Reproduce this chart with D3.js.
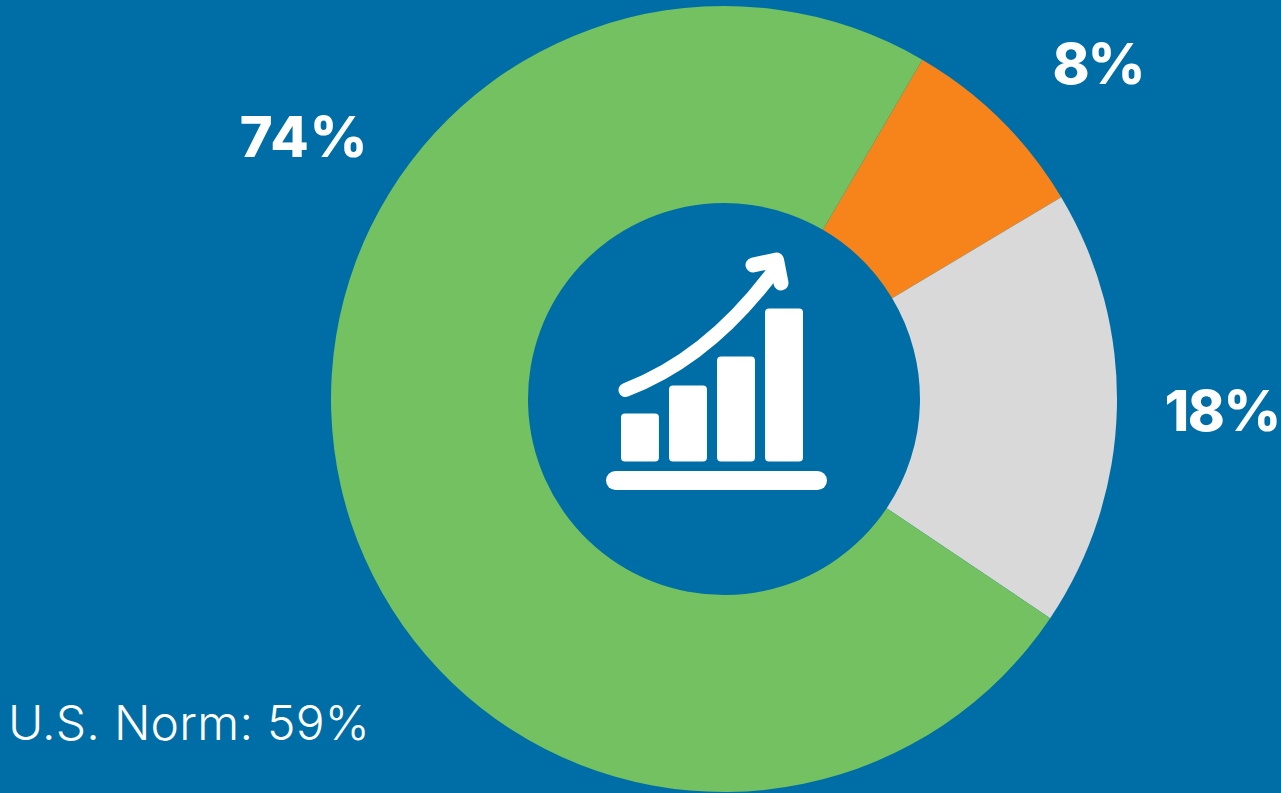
<!DOCTYPE html>
<html>
<head>
<meta charset="utf-8">
<script src="https://cdn.jsdelivr.net/npm/d3@7"></script>
<style>
html,body{margin:0;padding:0;background:#006ea6;overflow:hidden}
svg{display:block}
text{font-family:Inter,"Noto Sans",sans-serif;fill:#fff}
</style>
</head>
<body>
<svg id="chart" width="1281" height="793"></svg>
<script>
// Share of responses per segment, clockwise from the orange wedge
const segments = ["Orange", "Grey", "Green"];
const shares = [8, 18, 74];
const segmentColors = ["#f6841b", "#d9d9d9", "#73c160"];
const shareLabels = ["8%", "18%", "74%"];
const normLabel = "U.S. Norm: 59%";
// Relative heights of the bars in the growth icon
const iconBarHeights = [48, 76, 105, 153];

const W = 1281, H = 793;
const cx = 724, cy = 399, outer = 393, inner = 196;
const startDeg = 30.3;

const svg = d3.select("#chart");
svg.append("rect").attr("width", W).attr("height", H).attr("fill", "#006ea6");

const pie = d3.pie().sort(null)
  .startAngle(startDeg * Math.PI / 180)
  .endAngle((startDeg + 360) * Math.PI / 180);
const arc = d3.arc().innerRadius(inner).outerRadius(outer);

const g = svg.append("g").attr("transform", `translate(${cx},${cy})`);
g.selectAll("path.slice")
  .data(pie(shares))
  .join("path")
  .attr("class", "slice")
  .attr("d", arc)
  .attr("fill", (d, i) => segmentColors[i]);

// Value labels sit outside the ring at fixed anchor points
const labelAnchors = [
  {x: 1098, y: 84, spacing: -2},
  {x: 1222, y: 431, spacing: -1.5},
  {x: 304, y: 157, spacing: 0.8}
];
svg.selectAll("text.share")
  .data(shareLabels)
  .join("text")
  .attr("class", "share")
  .attr("x", (d, i) => labelAnchors[i].x)
  .attr("y", (d, i) => labelAnchors[i].y)
  .attr("text-anchor", "middle")
  .attr("font-size", 56)
  .attr("font-weight", 800)
  .attr("letter-spacing", (d, i) => labelAnchors[i].spacing)
  .text(d => d);

svg.append("text")
  .attr("x", 8)
  .attr("y", 740)
  .attr("font-size", 48)
  .attr("font-weight", 300)
  .attr("letter-spacing", 0.25)
  .text(normLabel);

// Growth icon in the hole of the ring
const icon = svg.append("g");
const barX = d3.scaleBand().domain(d3.range(iconBarHeights.length)).range([621, 803]).paddingInner(0.21);
const barBase = 461.5;
icon.selectAll("rect.bar")
  .data(iconBarHeights)
  .join("rect")
  .attr("class", "bar")
  .attr("x", (d, i) => barX(i))
  .attr("y", d => barBase - d)
  .attr("width", barX.bandwidth())
  .attr("height", d => d)
  .attr("rx", 4)
  .attr("fill", "#fff");
icon.append("rect")
  .attr("x", 606).attr("y", 471).attr("width", 221).attr("height", 19)
  .attr("rx", 9.5).attr("fill", "#fff");
icon.append("path")
  .attr("d", "M625.5,390 Q710,358 776,268")
  .attr("fill", "none").attr("stroke", "#fff")
  .attr("stroke-width", 14).attr("stroke-linecap", "round");
icon.append("path")
  .attr("d", "M753,265 L776.5,260 L781,283")
  .attr("fill", "none").attr("stroke", "#fff")
  .attr("stroke-width", 15).attr("stroke-linecap", "round").attr("stroke-linejoin", "round");
</script>
</body>
</html>
